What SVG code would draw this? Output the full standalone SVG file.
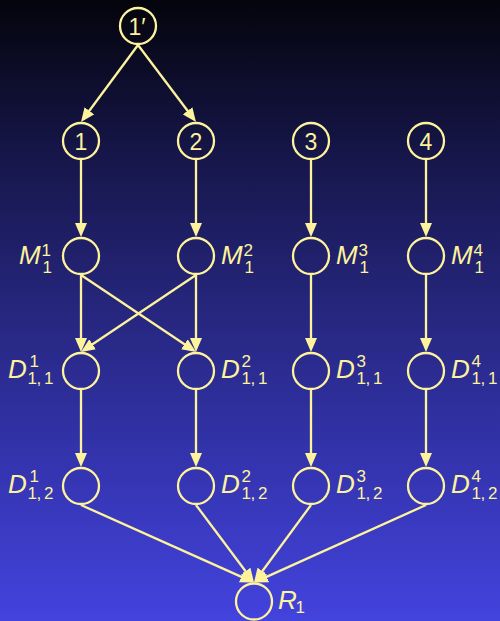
<svg xmlns="http://www.w3.org/2000/svg" width="500" height="621" viewBox="0 0 500 621">
<defs>
<linearGradient id="bg" x1="0" y1="0" x2="0" y2="1">
<stop offset="0" stop-color="#04040c"/>
<stop offset="0.25" stop-color="#16164a"/>
<stop offset="0.5" stop-color="#26267e"/>
<stop offset="0.75" stop-color="#3434b0"/>
<stop offset="1" stop-color="#4343de"/>
</linearGradient>
<marker id="ah" viewBox="0 0 14 12" markerWidth="14" markerHeight="12" refX="10" refY="6" orient="auto" markerUnits="userSpaceOnUse">
<path d="M0,0 L14,6 L0,12 z" fill="#fdf39c"/>
</marker>
</defs>
<style>
.n{fill:none;stroke:#fdf39c;stroke-width:2.3}
.e{fill:none;stroke:#fdf39c;stroke-width:2.3;marker-end:url(#ah)}
text{fill:#fdf39c;font-family:"Liberation Sans","DejaVu Sans",sans-serif}
.d{font-size:23px;text-anchor:middle}
.v{font-size:26px;font-style:italic}
.s{font-size:17px}
</style>
<rect x="0" y="0" width="500" height="621" fill="url(#bg)"/>
<g id="connectors">
<line class="e" x1="138" y1="45" x2="83.4" y2="118.8"/>
<line class="e" x1="138" y1="45" x2="193.6" y2="118.8"/>
<line class="e" x1="81" y1="160" x2="81" y2="233"/>
<line class="e" x1="196" y1="160" x2="196" y2="233"/>
<line class="e" x1="311" y1="160" x2="311" y2="233"/>
<line class="e" x1="426" y1="160" x2="426" y2="233"/>
<line class="e" x1="81" y1="275" x2="81" y2="348"/>
<line class="e" x1="196" y1="275" x2="196" y2="348"/>
<line class="e" x1="311" y1="275" x2="311" y2="348"/>
<line class="e" x1="426" y1="275" x2="426" y2="348"/>
<line class="e" x1="81" y1="275" x2="192.7" y2="349.8"/>
<line class="e" x1="196" y1="275" x2="84.3" y2="349.8"/>
<line class="e" x1="81" y1="390" x2="81" y2="463"/>
<line class="e" x1="196" y1="390" x2="196" y2="463"/>
<line class="e" x1="311" y1="390" x2="311" y2="463"/>
<line class="e" x1="426" y1="390" x2="426" y2="463"/>
<line class="e" x1="81" y1="505" x2="250.4" y2="580.9"/>
<line class="e" x1="196" y1="505" x2="251.6" y2="579.3"/>
<line class="e" x1="311" y1="505" x2="256.4" y2="579.3"/>
<line class="e" x1="426" y1="505" x2="257.6" y2="580.9"/>
</g>
<g id="n1p"><circle class="n" cx="138" cy="26" r="18"/><text class="d" x="137" y="34.5">1′</text></g>
<g id="n1"><circle class="n" cx="81" cy="141" r="18"/><text class="d" x="81" y="149.5">1</text></g>
<g id="n2"><circle class="n" cx="196" cy="141" r="18"/><text class="d" x="196" y="149.5">2</text></g>
<g id="n3"><circle class="n" cx="311" cy="141" r="18"/><text class="d" x="311" y="149.5">3</text></g>
<g id="n4"><circle class="n" cx="426" cy="141" r="18"/><text class="d" x="426" y="149.5">4</text></g>
<g id="m1"><circle class="n" cx="81" cy="256" r="18"/><text class="v" x="19" y="264">M</text><text class="s" x="41.5" y="255.5">1</text><text class="s" x="42.5" y="272.5">1</text></g>
<g id="m2"><circle class="n" cx="196" cy="256" r="18"/><text class="v" x="221" y="264">M</text><text class="s" x="243.5" y="255.5">2</text><text class="s" x="244.5" y="272.5">1</text></g>
<g id="m3"><circle class="n" cx="311" cy="256" r="18"/><text class="v" x="336" y="264">M</text><text class="s" x="358.5" y="255.5">3</text><text class="s" x="359.5" y="272.5">1</text></g>
<g id="m4"><circle class="n" cx="426" cy="256" r="18"/><text class="v" x="451" y="264">M</text><text class="s" x="473.5" y="255.5">4</text><text class="s" x="474.5" y="272.5">1</text></g>
<g id="d111"><circle class="n" cx="81" cy="371" r="18"/><text class="v" x="8" y="377.5">D</text><text class="s" x="29.5" y="366.5">1</text><text class="s" x="27.5 36.5 44" y="384">1,1</text></g>
<g id="d211"><circle class="n" cx="196" cy="371" r="18"/><text class="v" x="221" y="377.5">D</text><text class="s" x="241.5" y="366.5">2</text><text class="s" x="241.5 250.5 258" y="384">1,1</text></g>
<g id="d311"><circle class="n" cx="311" cy="371" r="18"/><text class="v" x="336" y="377.5">D</text><text class="s" x="356.5" y="366.5">3</text><text class="s" x="356.5 365.5 373" y="384">1,1</text></g>
<g id="d411"><circle class="n" cx="426" cy="371" r="18"/><text class="v" x="451" y="377.5">D</text><text class="s" x="471.5" y="366.5">4</text><text class="s" x="471.5 480.5 488" y="384">1,1</text></g>
<g id="d112"><circle class="n" cx="81" cy="486" r="18"/><text class="v" x="8" y="492.5">D</text><text class="s" x="29.5" y="481.5">1</text><text class="s" x="27.5 36.5 44" y="499">1,2</text></g>
<g id="d212"><circle class="n" cx="196" cy="486" r="18"/><text class="v" x="221" y="492.5">D</text><text class="s" x="241.5" y="481.5">2</text><text class="s" x="241.5 250.5 258" y="499">1,2</text></g>
<g id="d312"><circle class="n" cx="311" cy="486" r="18"/><text class="v" x="336" y="492.5">D</text><text class="s" x="356.5" y="481.5">3</text><text class="s" x="356.5 365.5 373" y="499">1,2</text></g>
<g id="d412"><circle class="n" cx="426" cy="486" r="18"/><text class="v" x="451" y="492.5">D</text><text class="s" x="471.5" y="481.5">4</text><text class="s" x="471.5 480.5 488" y="499">1,2</text></g>
<g id="r1"><circle class="n" cx="254" cy="601.5" r="18"/><text class="v" x="278" y="609">R</text><text class="s" x="295.5" y="613">1</text></g>
</svg>
